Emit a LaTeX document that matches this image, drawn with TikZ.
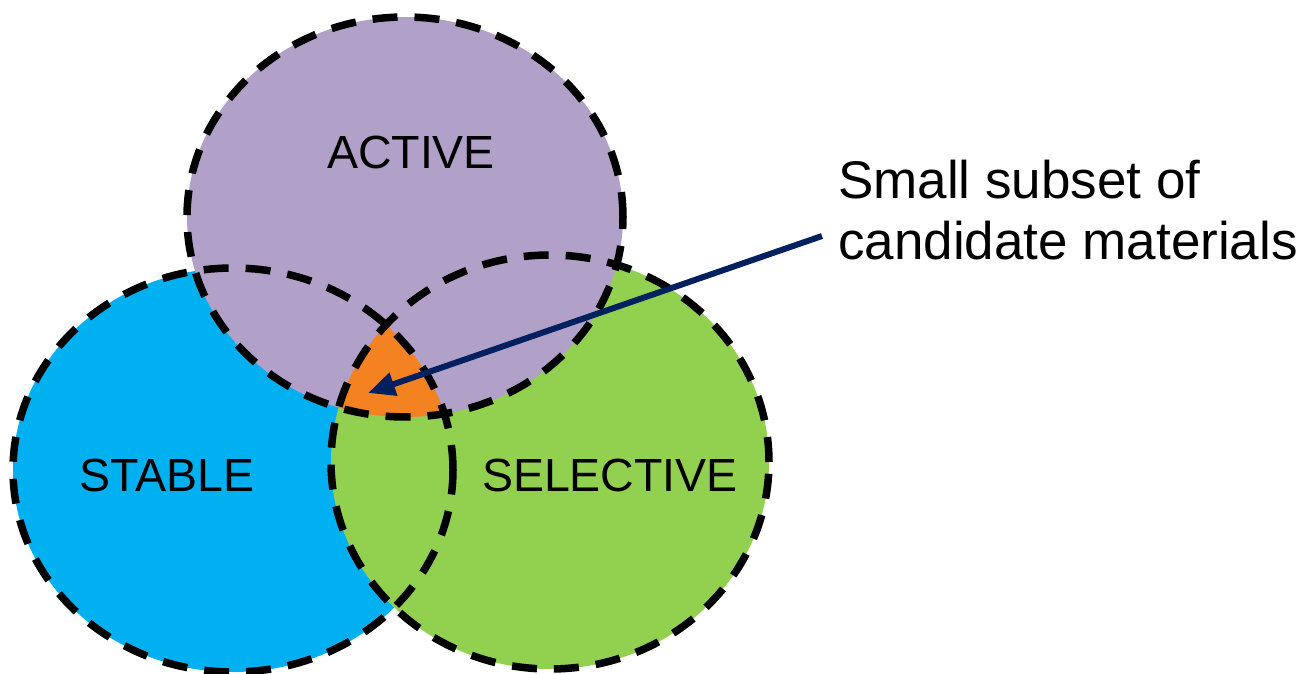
\documentclass[tikz,border=0pt]{standalone}
\usepackage{fontspec}
\setmainfont{Liberation Sans}
\usetikzlibrary{arrows.meta}
\definecolor{activec}{HTML}{B1A0C7}
\definecolor{stablec}{HTML}{00B0F0}
\definecolor{selectc}{HTML}{92D050}
\definecolor{orangec}{HTML}{F58220}
\definecolor{navyc}{HTML}{002060}
\begin{document}
\begin{tikzpicture}[x=1pt,y=-1pt,
  outl/.style={draw=black, line width=7.5pt, dash pattern=on 25pt off 17pt},
  lbl/.style={font=\fontsize{46.5}{53}\selectfont, inner sep=0pt},
  callout/.style={font=\fontsize{53}{61}\selectfont, inner sep=0pt, align=left, anchor=north west},
  pointer/.style={draw=navyc, line width=6pt, -{Triangle[length=27pt,width=23pt]}}]
\useasboundingbox (0,0) rectangle (1302,674);
% fills
\fill[stablec] (233,470) ellipse [x radius=220pt, y radius=202pt];
\fill[selectc] (550,462) ellipse [x radius=219pt, y radius=207pt];
\fill[activec] (405,217) ellipse [x radius=218pt, y radius=200pt];
\begin{scope}
  \clip (233,470) ellipse [x radius=220pt, y radius=202pt];
  \clip (550,462) ellipse [x radius=219pt, y radius=207pt];
  \fill[orangec] (405,217) ellipse [x radius=218pt, y radius=200pt];
\end{scope}
% dashed outlines
\draw[outl] (233,470) ellipse [x radius=220pt, y radius=202pt];
\draw[outl] (550,462) ellipse [x radius=219pt, y radius=207pt];
\draw[outl] (405,217) ellipse [x radius=218pt, y radius=200pt];
% labels
\node[lbl] (active) at (411,152) {ACTIVE};
\node[lbl] (stable) at (167,475) {STABLE};
\node[lbl] (selective) at (610,475) {SELECTIVE};
\node[callout] (note) at (838,160) {Small subset of\\candidate materials};
% arrow
\coordinate (tail) at (822,236);
\coordinate (tip) at (368,393);
\draw[pointer] (tail) -- (tip);
\end{tikzpicture}
\end{document}
